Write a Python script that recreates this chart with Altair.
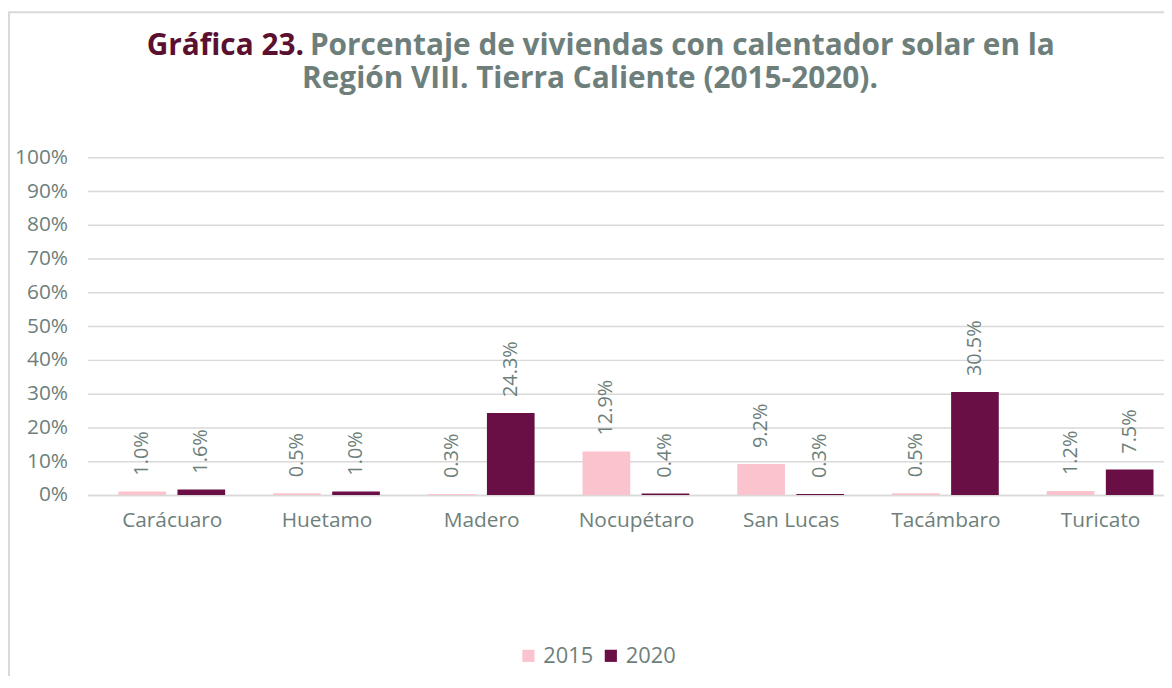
import json
import altair as alt
import pandas as pd

municipios = ["Carácuaro", "Huetamo", "Madero", "Nocupétaro", "San Lucas", "Tacámbaro", "Turicato"]
anios = ["2015", "2020"]
valores_2015 = [1.0, 0.5, 0.3, 12.9, 9.2, 0.5, 1.2]
valores_2020 = [1.6, 1.0, 24.3, 0.4, 0.3, 30.5, 7.5]
y_ticks = [0, 10, 20, 30, 40, 50, 60, 70, 80, 90, 100]

rows = []
for i, m in enumerate(municipios):
    rows.append({"municipio": m, "idx": i, "anio": "2015", "valor": valores_2015[i]})
    rows.append({"municipio": m, "idx": i, "anio": "2020", "valor": valores_2020[i]})
df = pd.DataFrame(rows)

GRAY = "#6e7f7b"
MAROON = "#5b1030"
FONT = "Open Sans"
W, H = 1084, 340
STEP = 157.25            # pixel width of one municipality group
X0 = -2 / STEP           # slight left shift of first group

names_js = json.dumps(municipios, ensure_ascii=False)

x_axis = alt.Axis(title=None, values=[i + 0.5 for i in range(len(municipios))],
                  labelExpr=names_js + "[floor(datum.value)]",
                  labelAngle=0, labelFontSize=21, labelColor=GRAY,
                  labelFont=FONT, labelPadding=15, ticks=False,
                  labelFlush=False, labelOverlap=False, labelBound=False,
                  domainColor="#d9d9d9", domainWidth=1.5, grid=False)
x_scale = alt.Scale(domain=[X0, X0 + W / STEP], zero=False, nice=False)
x_enc = alt.X("pos:Q", scale=x_scale, axis=x_axis)

y_axis = alt.Axis(title=None, values=y_ticks, tickCount=11, labelOverlap=False,
                  labelExpr="datum.value + '%'",
                  labelFontSize=21, labelColor=GRAY, labelFont=FONT,
                  labelPadding=20, ticks=False, domain=False,
                  gridColor="#d9d9d9", gridWidth=1.5)
y_enc = alt.Y("valor:Q", scale=alt.Scale(domain=[0, 100]), axis=y_axis)
color = alt.Color("anio:N", sort=anios,
                  scale=alt.Scale(domain=anios, range=["#fbc3cd", "#6a0f45"]),
                  legend=alt.Legend(title=None, orient="none", legendX=433, legendY=491,
                                    direction="horizontal", symbolType="square",
                                    symbolSize=150, symbolStrokeWidth=0,
                                    labelFontSize=22, labelColor=GRAY, labelFont=FONT,
                                    columnPadding=6, labelOffset=4))

base = alt.Chart(df).transform_calculate(
    pos="datum.idx + (datum.anio == '2015' ? 0.309 : 0.691)",
    lab="format(datum.valor, '.1f') + '%'",
)

bars = base.mark_bar(width=48).encode(x=x_enc, y=y_enc, color=color)

labels = base.mark_text(angle=270, align="left", baseline="middle", dx=16,
                        fontSize=20, color=GRAY, font=FONT).encode(
    x=x_enc,
    y=y_enc,
    text="lab:N",
)

frame = alt.Chart(pd.DataFrame({"a": [0]})).mark_rect(
    fill=None, stroke="#d9d9d9", strokeWidth=2
).encode(x=alt.value(-79), x2=alt.value(1200), y=alt.value(-146), y2=alt.value(700))

t1a = alt.Chart(pd.DataFrame({"t": ["Gráfica 23."]})).mark_text(
    align="right", baseline="alphabetic", fontSize=30, fontWeight="bold",
    color=MAROON, font=FONT
).encode(text="t:N", x=alt.value(218), y=alt.value(-103))

t1b = alt.Chart(pd.DataFrame({"t": ["Porcentaje de viviendas con calentador solar en la"]})).mark_text(
    align="left", baseline="alphabetic", fontSize=30, fontWeight="bold",
    color=GRAY, font=FONT
).encode(text="t:N", x=alt.value(224), y=alt.value(-103))

t2 = alt.Chart(pd.DataFrame({"t": ["Región VIII. Tierra Caliente (2015-2020)."]})).mark_text(
    align="center", baseline="alphabetic", fontSize=30, fontWeight="bold",
    color=GRAY, font=FONT
).encode(text="t:N", x=alt.value(506), y=alt.value(-70))

chart = alt.layer(bars, labels, frame, t1a, t1b, t2).properties(
    width=W, height=H,
    autosize=alt.AutoSizeParams(type="none"),
    padding={"left": 80, "top": 148, "right": 0, "bottom": 180},
).configure_view(strokeWidth=0)

chart.save("out.html", embed_options={"renderer": "svg", "actions": False})
